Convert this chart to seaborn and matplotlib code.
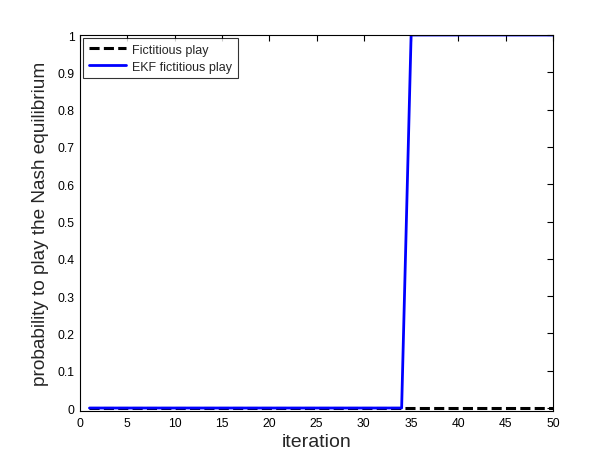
import numpy as np
import pandas as pd
import matplotlib
matplotlib.use("Agg")
import matplotlib.pyplot as plt
import seaborn as sns

iterations = list(range(1, 51))
fictitious_play = [0.0] * 50
ekf_fictitious_play = [0.0] * 33 + [0.0, 1.0] + [1.0] * 15
series_names = ["Fictitious play", "EKF fictitious play"]
x_ticks = list(range(0, 51, 5))
y_ticks = [round(0.1 * i, 1) for i in range(11)]
y_tick_labels = ["0", "0.1", "0.2", "0.3", "0.4", "0.5", "0.6", "0.7", "0.8", "0.9", "1"]

df = pd.DataFrame({
    "iteration": iterations * 2,
    "prob": fictitious_play + ekf_fictitious_play,
    "series": [series_names[0]] * 50 + [series_names[1]] * 50,
})

sns.set_style("white")
plt.rcParams["font.family"] = ["Liberation Sans", "DejaVu Sans"]

fig = plt.figure(figsize=(6.12, 4.64), dpi=100)
ax = fig.add_axes([80 / 612, 52 / 464, 473 / 612, 376 / 464])

sns.lineplot(data=df[df.series == series_names[0]], x="iteration", y="prob",
             color="black", linestyle=(0, (3.3, 1.4)), linewidth=2.2, ax=ax,
             label=series_names[0])
sns.lineplot(data=df[df.series == series_names[1]], x="iteration", y="prob",
             color="#0000ff", linewidth=2.0, ax=ax, label=series_names[1])

ax.set_xlim(0, 50)
ax.set_ylim(-0.008, 1.0)
ax.set_xticks(x_ticks)
ax.set_yticks(y_ticks)
ax.set_yticklabels(y_tick_labels)
ax.tick_params(direction="in", length=4, width=0.8, labelsize=8.7, top=True, right=True,
               colors="black", pad=4)
for s in ax.spines.values():
    s.set_visible(True)
    s.set_color("black")
    s.set_linewidth(0.8)
ax.set_xlabel("iteration", fontsize=14, labelpad=3)
ax.set_ylabel("probability to play the Nash equilibrium", fontsize=13.7, labelpad=6)

leg = ax.legend(loc="upper left", fontsize=9, frameon=True, fancybox=False,
                borderaxespad=0.25, handlelength=3.0, handletextpad=0.5,
                borderpad=0.45, labelspacing=0.4)
leg.get_frame().set_edgecolor("black")
leg.get_frame().set_linewidth(0.8)

fig.savefig("out.png", dpi=100)
